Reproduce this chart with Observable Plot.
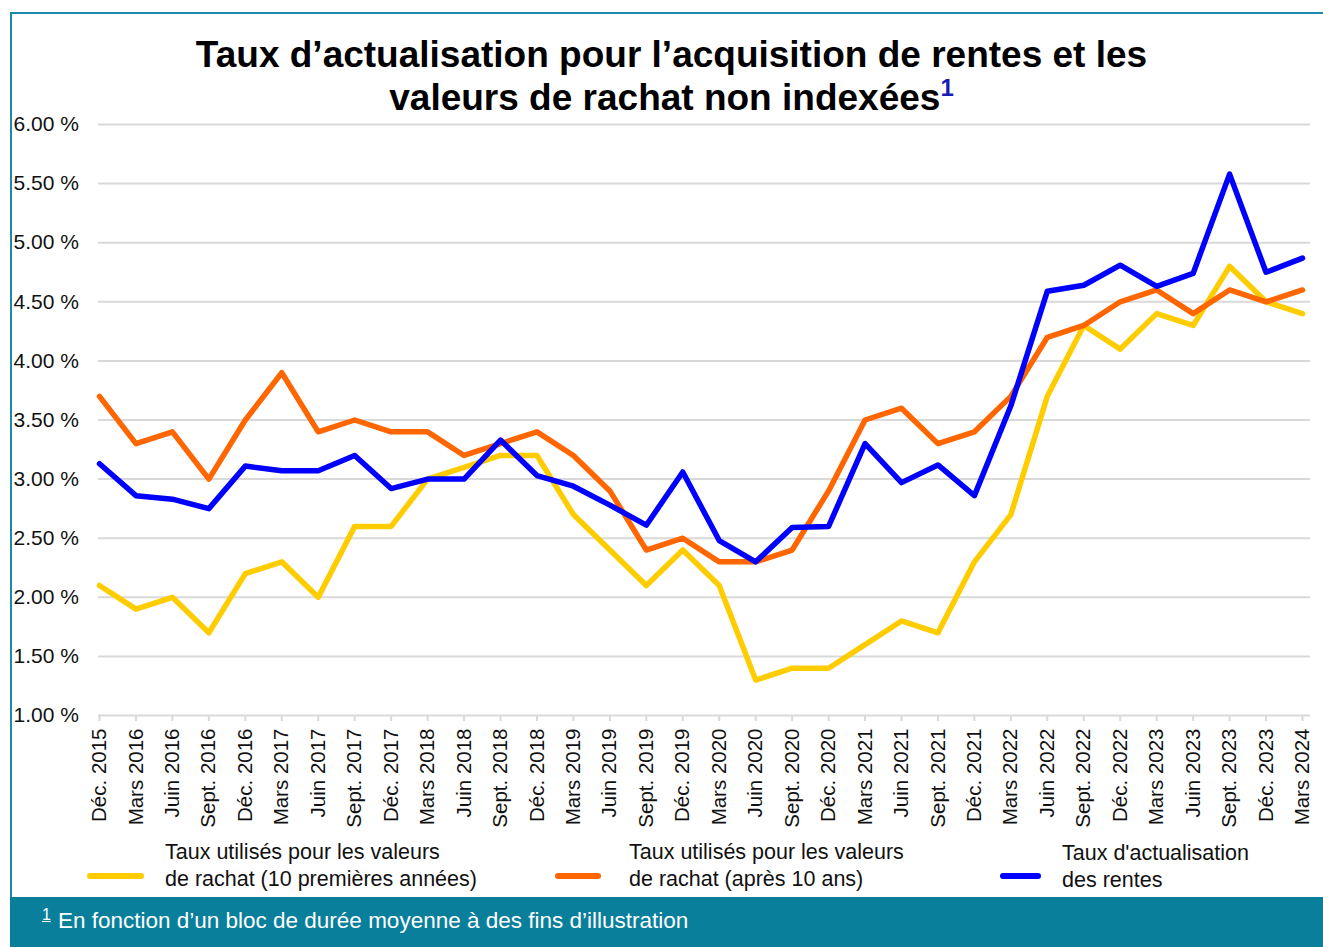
<!DOCTYPE html>
<html>
<head>
<meta charset="utf-8">
<script src="https://cdn.jsdelivr.net/npm/d3@7"></script>
<script src="https://cdn.jsdelivr.net/npm/@observablehq/plot@0.6"></script>
<style>
  html, body { margin: 0; padding: 0; background: #fff; }
  body { font-family: "Liberation Sans", Arial, sans-serif; }
  #wrap { position: relative; width: 1323px; height: 947px; overflow: hidden; }
  #frame { position: absolute; left: 10px; top: 12px; width: 1330px; height: 900px; border-left: 2px solid #1a8aa8; border-top: 2px solid #1a8aa8; box-sizing: border-box; }
  #title { position: absolute; left: 0; width: 1343px; top: 33px; text-align: center; font-weight: bold; font-size: 37px; line-height: 43px; color: #000; }
  #title sup { color: #1a1ab4; font-size: 24px; vertical-align: 14px; line-height: 0; }
  #chart { position: absolute; left: 0; top: 0; }
  .leg { position: absolute; font-size: 21.5px; line-height: 27px; color: #111; }
  .sw { position: absolute; height: 6px; border-radius: 3px; }
  #foot { position: absolute; left: 10px; top: 897px; width: 1320px; height: 50px; background: #0a7f9c; color: #fff; font-size: 22.5px; }
  #foot span.t { position: absolute; left: 32px; top: 11px; }
  #foot sup { font-size: 16px; text-decoration: underline; vertical-align: 8px; line-height: 0; margin-right: 7px; }
</style>
</head>
<body>
<div id="wrap">
  <div id="frame"></div>
  <div id="title">Taux d’actualisation pour l’acquisition de rentes et les<br>valeurs de rachat non indexées<sup>1</sup></div>
  <div id="chart"></div>
  <div class="sw" style="left:87px; top:873px; width:57px; background:#FFCC00"></div>
  <div class="leg" style="left:165px; top:839px">Taux utilisés pour les valeurs<br>de rachat (10 premières années)</div>
  <div class="sw" style="left:555px; top:873px; width:46px; background:#FF6600"></div>
  <div class="leg" style="left:629px; top:839px">Taux utilisés pour les valeurs<br>de rachat (après 10 ans)</div>
  <div class="sw" style="left:1000px; top:873px; width:41px; background:#0000FF"></div>
  <div class="leg" style="left:1062px; top:840px">Taux d'actualisation<br>des rentes</div>
  <div id="foot"><span class="t"><sup>1</sup>En fonction d’un bloc de durée moyenne à des fins d’illustration</span></div>
</div>
<script>
const quarters = ["Déc. 2015","Mars 2016","Juin 2016","Sept. 2016","Déc. 2016","Mars 2017","Juin 2017","Sept. 2017","Déc. 2017","Mars 2018","Juin 2018","Sept. 2018","Déc. 2018","Mars 2019","Juin 2019","Sept. 2019","Déc. 2019","Mars 2020","Juin 2020","Sept. 2020","Déc. 2020","Mars 2021","Juin 2021","Sept. 2021","Déc. 2021","Mars 2022","Juin 2022","Sept. 2022","Déc. 2022","Mars 2023","Juin 2023","Sept. 2023","Déc. 2023","Mars 2024"];

const rachat10 = [2.10,1.90,2.00,1.70,2.20,2.30,2.00,2.60,2.60,3.00,3.10,3.20,3.20,2.70,2.40,2.10,2.40,2.10,1.30,1.40,1.40,1.60,1.80,1.70,2.30,2.70,3.70,4.30,4.10,4.40,4.30,4.80,4.50,4.40];
const rachatApres = [3.70,3.30,3.40,3.00,3.50,3.90,3.40,3.50,3.40,3.40,3.20,3.30,3.40,3.20,2.90,2.40,2.50,2.30,2.30,2.40,2.90,3.50,3.60,3.30,3.40,3.70,4.20,4.30,4.50,4.60,4.40,4.60,4.50,4.60];
const rentes = [3.13,2.86,2.83,2.75,3.11,3.07,3.07,3.20,2.92,3.00,3.00,3.33,3.03,2.94,2.78,2.61,3.06,2.48,2.30,2.59,2.60,3.30,2.97,3.12,2.86,3.62,4.59,4.64,4.81,4.63,4.74,5.58,4.75,4.87];

const yTicks = [1,1.5,2,2.5,3,3.5,4,4.5,5,5.5,6];

const seriesNames = ["rachat10","rachatApres","rentes"];
const seriesColors = ["#FFCC00","#FF6600","#0000FF"];
const data = [];
[rachat10, rachatApres, rentes].forEach((arr, s) => arr.forEach((v, i) => data.push({i, v, s: seriesNames[s]})));

const chart = Plot.plot({
  width: 1323,
  height: 897,
  marginLeft: 98,
  marginRight: 13,
  marginTop: 124,
  marginBottom: 182,
  style: {background: "transparent", fontFamily: "Liberation Sans, Arial, sans-serif", overflow: "visible"},
  x: {type: "linear", domain: [0, quarters.length - 1], range: [99, 1302]},
  y: {domain: [1, 6], range: [715, 124], axis: null},
  color: {domain: seriesNames, range: seriesColors},
  marks: [
    Plot.ruleY(yTicks.filter(d => d > 1), {y: d => d, stroke: "#d9d9d9", strokeWidth: 2}),
    Plot.ruleY([1], {stroke: "#d9d9d9", strokeWidth: 2}),
    Plot.axisX({
      ticks: d3.range(quarters.length),
      tickFormat: i => quarters[i],
      tickRotate: -90,
      tickSize: 6,
      tickPadding: 7,
      stroke: "#d9d9d9",
      strokeWidth: 2,
      strokeOpacity: 1,
      fill: "#111",
      fontSize: 20.5,
      label: null
    }),
    Plot.text(yTicks, {y: d => d, text: d => d.toFixed(2) + " %", frameAnchor: "left", dx: -85, textAnchor: "start", fontSize: 21, fill: "#111"}),
    Plot.line(data, {x: "i", y: "v", z: "s", stroke: "s", strokeWidth: 5.5, strokeLinejoin: "round", strokeLinecap: "round"})
  ]
});
document.getElementById("chart").appendChild(chart);
</script>
</body>
</html>
